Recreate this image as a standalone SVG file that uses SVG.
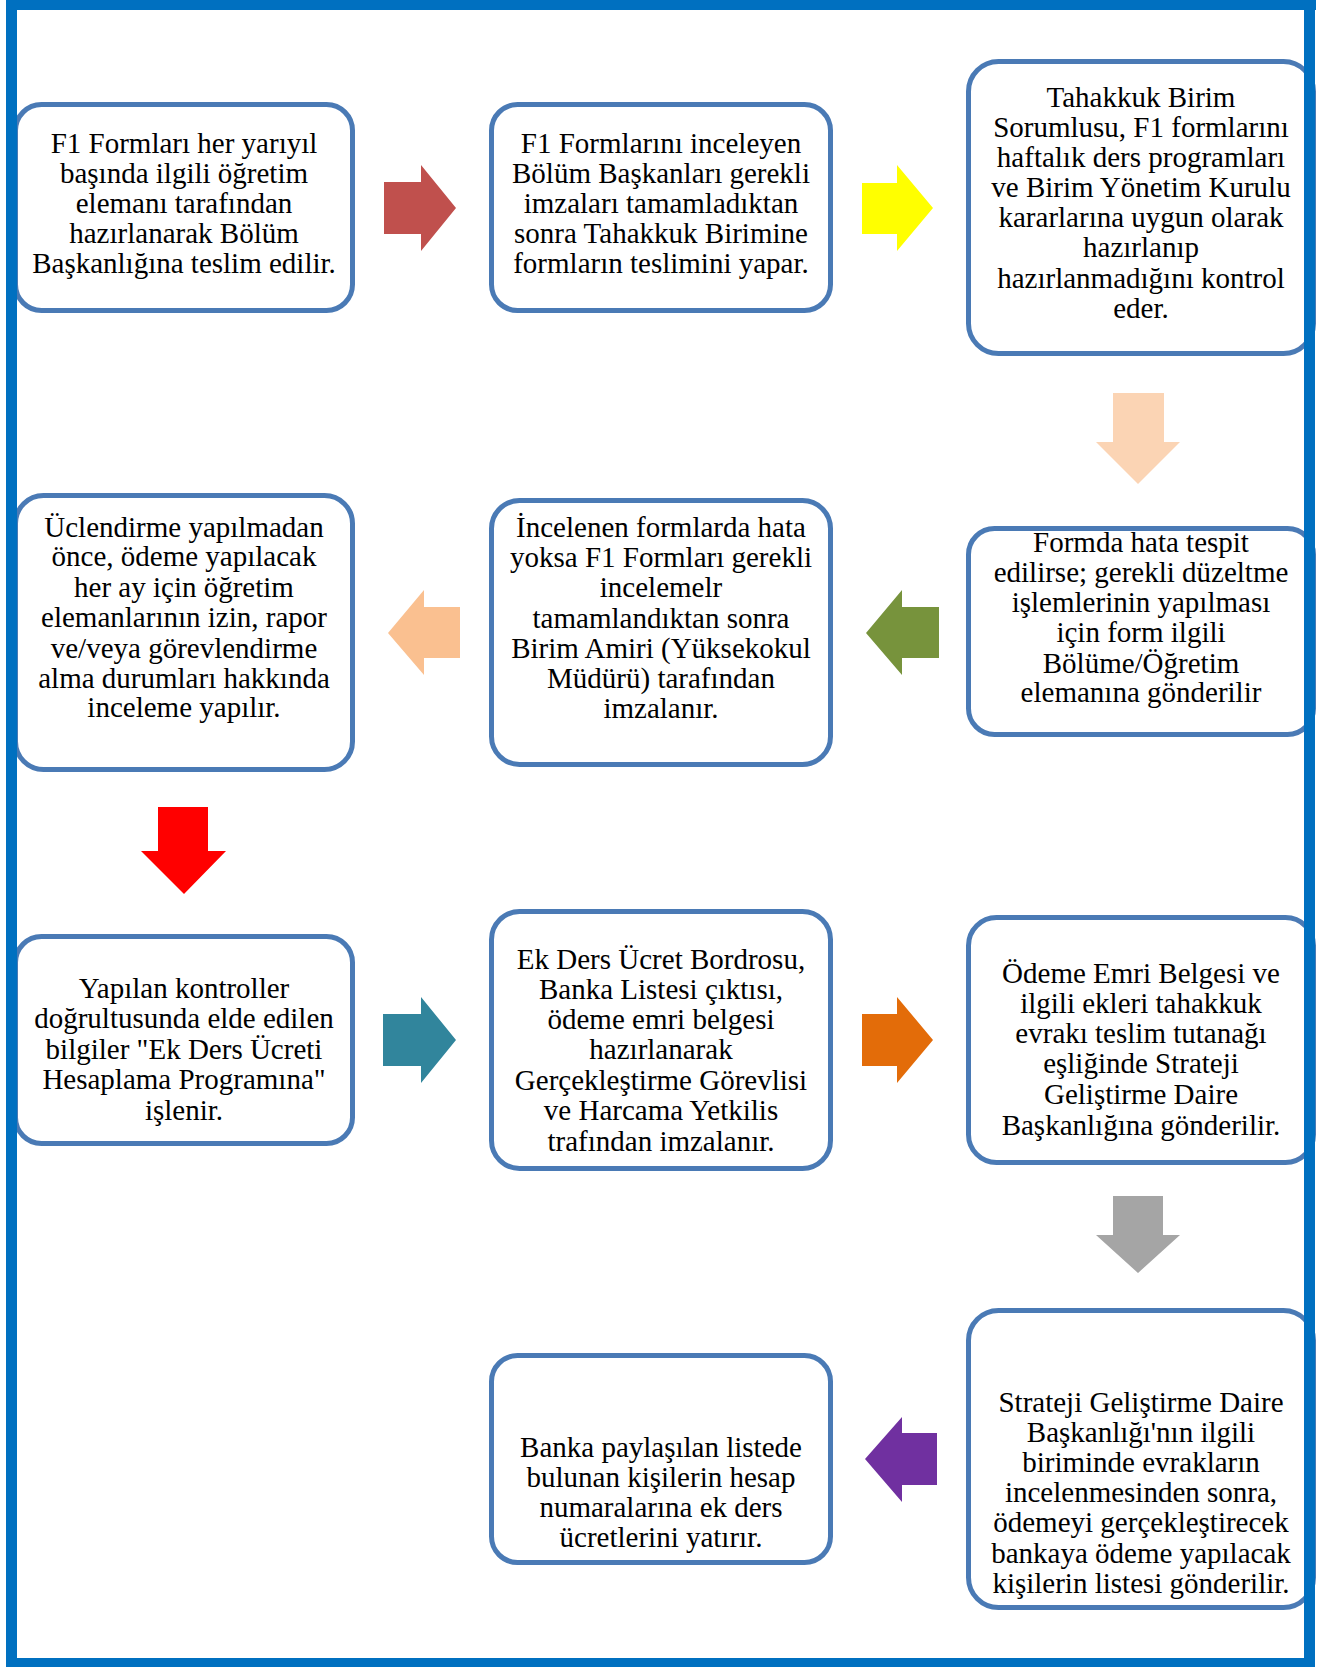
<svg xmlns="http://www.w3.org/2000/svg" width="1332" height="1667" viewBox="0 0 1332 1667">
<style>
.box{fill:#FFFFFF;stroke:#4A7AB5;stroke-width:5}
.t{font-family:"Liberation Serif","Times New Roman",serif;font-size:29px;fill:#000000;text-anchor:middle}
.frame{fill:#0070C0}
</style>
<rect width="1332" height="1667" fill="#FFFFFF"/>
<g id="connectors">
<polygon points="384,182 421,182 421,165 456,208 421,251 421,234 384,234" fill="#C0504D"/>
<polygon points="862,183 897,183 897,165 933,208 897,251 897,234 862,234" fill="#FFFF00"/>
<polygon points="1113,393 1164,393 1164,442 1180,442 1138,484 1096,442 1113,442" fill="#FBD4B4"/>
<polygon points="939,607 902,607 902,590 866,633 902,675 902,658 939,658" fill="#77933C"/>
<polygon points="460,607 424,607 424,590 388,633 424,675 424,658 460,658" fill="#FAC090"/>
<polygon points="158,807 208,807 208,851 226,851 184,894 141,851 158,851" fill="#FF0000"/>
<polygon points="383,1014 421,1014 421,997 456,1040 421,1083 421,1066 383,1066" fill="#31859C"/>
<polygon points="862,1014 897,1014 897,997 933,1040 897,1083 897,1066 862,1066" fill="#E36C09"/>
<polygon points="1113,1196 1163,1196 1163,1235 1180,1235 1138,1273 1096,1235 1113,1235" fill="#A5A5A5"/>
<polygon points="937,1433 902,1433 902,1417 865,1459 902,1502 902,1485 937,1485" fill="#7030A0"/>
</g>
<g id="n1">
<rect class="box" x="15.5" y="104.5" width="337" height="206" rx="26"/>
<text class="t"><tspan x="184" y="153">F1 Formları her yarıyıl</tspan><tspan x="184" y="183">başında ilgili öğretim</tspan><tspan x="184" y="213">elemanı tarafından</tspan><tspan x="184" y="243">hazırlanarak Bölüm</tspan><tspan x="184" y="273">Başkanlığına teslim edilir.</tspan></text>
</g>
<g id="n2">
<rect class="box" x="491.5" y="104.5" width="339" height="206" rx="26"/>
<text class="t"><tspan x="661" y="153">F1 Formlarını inceleyen</tspan><tspan x="661" y="183">Bölüm Başkanları gerekli</tspan><tspan x="661" y="213">imzaları tamamladıktan</tspan><tspan x="661" y="243">sonra Tahakkuk Birimine</tspan><tspan x="661" y="273">formların teslimini yapar.</tspan></text>
</g>
<g id="n3">
<rect class="box" x="968.5" y="61.5" width="345" height="292" rx="30"/>
<text class="t"><tspan x="1141" y="107">Tahakkuk Birim</tspan><tspan x="1141" y="137">Sorumlusu, F1 formlarını</tspan><tspan x="1141" y="167">haftalık ders programları</tspan><tspan x="1141" y="197">ve Birim Yönetim Kurulu</tspan><tspan x="1141" y="227">kararlarına uygun olarak</tspan><tspan x="1141" y="257">hazırlanıp</tspan><tspan x="1141" y="288">hazırlanmadığını kontrol</tspan><tspan x="1141" y="318">eder.</tspan></text>
</g>
<g id="n4">
<rect class="box" x="968.5" y="528.5" width="345" height="206" rx="26"/>
<text class="t"><tspan x="1141" y="552">Formda hata tespit</tspan><tspan x="1141" y="582">edilirse; gerekli düzeltme</tspan><tspan x="1141" y="612">işlemlerinin yapılması</tspan><tspan x="1141" y="642">için form ilgili</tspan><tspan x="1141" y="673">Bölüme/Öğretim</tspan><tspan x="1141" y="702">elemanına gönderilir</tspan></text>
</g>
<g id="n5">
<rect class="box" x="491.5" y="500.5" width="339" height="264" rx="28"/>
<text class="t"><tspan x="661" y="537">İncelenen formlarda hata</tspan><tspan x="661" y="567">yoksa F1 Formları gerekli</tspan><tspan x="661" y="597">incelemelr</tspan><tspan x="661" y="628">tamamlandıktan sonra</tspan><tspan x="661" y="658">Birim Amiri (Yüksekokul</tspan><tspan x="661" y="688">Müdürü) tarafından</tspan><tspan x="661" y="718">imzalanır.</tspan></text>
</g>
<g id="n6">
<rect class="box" x="15.5" y="495.5" width="337" height="274" rx="28"/>
<text class="t"><tspan x="184" y="537">Üclendirme yapılmadan</tspan><tspan x="184" y="566">önce, ödeme yapılacak</tspan><tspan x="184" y="597">her ay için öğretim</tspan><tspan x="184" y="627">elemanlarının izin, rapor</tspan><tspan x="184" y="658">ve/veya görevlendirme</tspan><tspan x="184" y="688">alma durumları hakkında</tspan><tspan x="184" y="717">inceleme yapılır.</tspan></text>
</g>
<g id="n7">
<rect class="box" x="15.5" y="936.5" width="337" height="207" rx="26"/>
<text class="t"><tspan x="184" y="998">Yapılan kontroller</tspan><tspan x="184" y="1028">doğrultusunda elde edilen</tspan><tspan x="184" y="1059">bilgiler "Ek Ders Ücreti</tspan><tspan x="184" y="1089">Hesaplama Programına"</tspan><tspan x="184" y="1120">işlenir.</tspan></text>
</g>
<g id="n8">
<rect class="box" x="491.5" y="911.5" width="339" height="257" rx="28"/>
<text class="t"><tspan x="661" y="969">Ek Ders Ücret Bordrosu,</tspan><tspan x="661" y="999">Banka Listesi çıktısı,</tspan><tspan x="661" y="1029">ödeme emri belgesi</tspan><tspan x="661" y="1059">hazırlanarak</tspan><tspan x="661" y="1090">Gerçekleştirme Görevlisi</tspan><tspan x="661" y="1120">ve Harcama Yetkilis</tspan><tspan x="661" y="1151">trafından imzalanır.</tspan></text>
</g>
<g id="n9">
<rect class="box" x="968.5" y="917.5" width="345" height="245" rx="28"/>
<text class="t"><tspan x="1141" y="983">Ödeme Emri Belgesi ve</tspan><tspan x="1141" y="1013">ilgili ekleri tahakkuk</tspan><tspan x="1141" y="1043">evrakı teslim tutanağı</tspan><tspan x="1141" y="1073">eşliğinde Strateji</tspan><tspan x="1141" y="1104">Geliştirme Daire</tspan><tspan x="1141" y="1135">Başkanlığına gönderilir.</tspan></text>
</g>
<g id="n10">
<rect class="box" x="968.5" y="1310.5" width="345" height="297" rx="30"/>
<text class="t"><tspan x="1141" y="1412">Strateji Geliştirme Daire</tspan><tspan x="1141" y="1442">Başkanlığı'nın ilgili</tspan><tspan x="1141" y="1472">biriminde evrakların</tspan><tspan x="1141" y="1502">incelenmesinden sonra,</tspan><tspan x="1141" y="1532">ödemeyi gerçekleştirecek</tspan><tspan x="1141" y="1563">bankaya ödeme yapılacak</tspan><tspan x="1141" y="1593">kişilerin listesi gönderilir.</tspan></text>
</g>
<g id="n11">
<rect class="box" x="491.5" y="1355.5" width="339" height="207" rx="26"/>
<text class="t"><tspan x="661" y="1457">Banka paylaşılan listede</tspan><tspan x="661" y="1487">bulunan kişilerin hesap</tspan><tspan x="661" y="1517">numaralarına ek ders</tspan><tspan x="661" y="1547">ücretlerini yatırır.</tspan></text>
</g>
<g id="frame">
<rect class="frame" x="6" y="0" width="1310" height="10"/>
<rect class="frame" x="6" y="0" width="11" height="1667"/>
<rect class="frame" x="1304" y="0" width="11" height="1667"/>
<rect class="frame" x="6" y="1658" width="1309" height="9"/>
</g>
</svg>
